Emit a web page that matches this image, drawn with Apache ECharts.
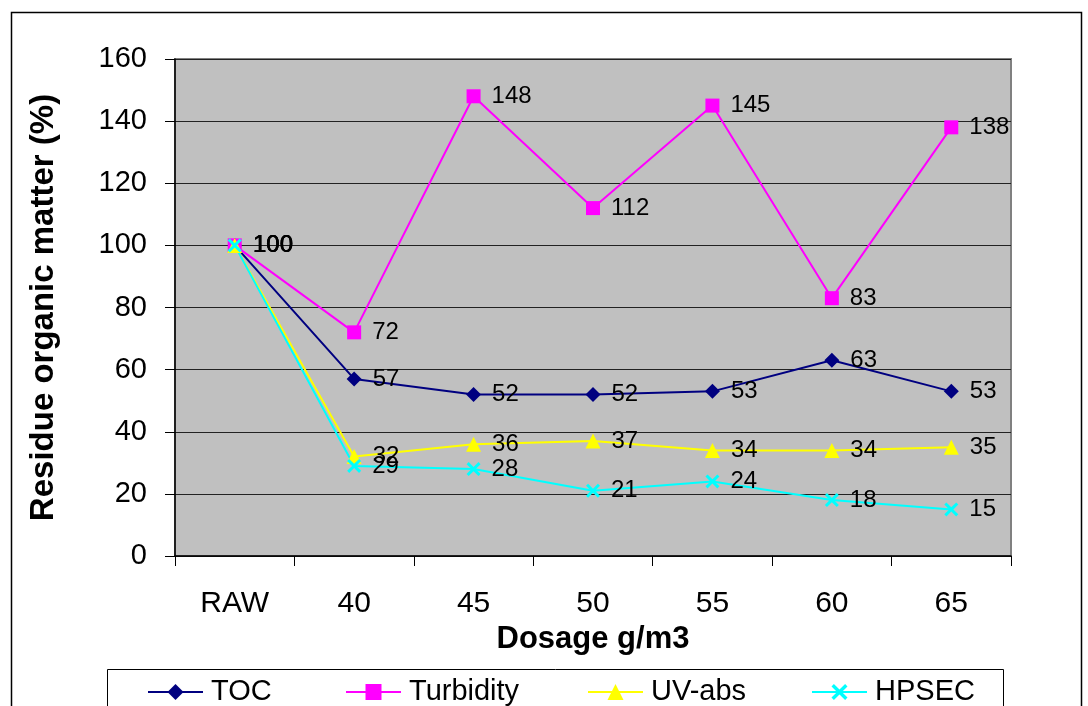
<!DOCTYPE html>
<html>
<head>
<meta charset="utf-8">
<title>Residue organic matter vs dosage</title>
<script src="https://cdn.jsdelivr.net/npm/echarts@6/dist/echarts.min.js"></script>
<style>
  html, body { margin: 0; padding: 0; background: #ffffff; }
  #chart { width: 1088px; height: 706px; }
</style>
</head>
<body>
<div id="chart"></div>
<script>
// Dosage categories (g/m3) and residue values (% of raw water)
const categories = ['RAW', '40', '45', '50', '55', '60', '65'];
const tocValues = [100, 57, 52, 52, 53, 63, 53];
const turbidityValues = [100, 72, 148, 112, 145, 83, 138];
const uvAbsValues = [100, 32, 36, 37, 34, 34, 35];
const hpsecValues = [100, 29, 28, 21, 24, 18, 15];
const seriesNames = ['TOC', 'Turbidity', 'UV-abs', 'HPSEC'];

const FONT = "'Liberation Sans', Arial, sans-serif";
const crossSymbol = 'path://M0,1.5L1.5,0L5,3.5L8.5,0L10,1.5L6.5,5L10,8.5L8.5,10L5,6.5L1.5,10L0,8.5L3.5,5Z';

function makeSeries(name, data, color, symbol, size) {
  return {
    name: name,
    type: 'line',
    data: data,
    symbol: symbol,
    symbolSize: size,
    symbolKeepAspect: true,
    lineStyle: { color: color, width: 2 },
    itemStyle: { color: color },
    emphasis: { disabled: true },
    label: {
      show: true,
      position: 'right',
      distance: 11,
      color: '#000',
      fontSize: 24,
      fontFamily: FONT
    }
  };
}

function legendAt(name, left) {
  return {
    data: [name],
    left: left,
    top: 676,
    padding: 0,
    itemWidth: 55,
    itemHeight: 20,
    selectedMode: false,
    textStyle: { fontSize: 29, fontFamily: FONT, color: '#000', padding: [0, 0, 0, 3], lineHeight: 32 }
  };
}

const chart = echarts.init(document.getElementById('chart'), null, { renderer: 'canvas' });

chart.setOption({
  backgroundColor: '#ffffff',
  animation: false,
  textStyle: { fontFamily: FONT },
  graphic: [
    { type: 'rect', shape: { x: 11.5, y: 12.5, width: 1070, height: 720 },
      style: { fill: 'none', stroke: '#000', lineWidth: 1.5 }, z: -10, silent: true },
    { type: 'rect', shape: { x: 107.5, y: 669.5, width: 896, height: 60 },
      style: { fill: 'none', stroke: '#000', lineWidth: 1 }, z: -10, silent: true }
  ],
  grid: {
    left: 175, top: 59, right: 77, bottom: 150,
    show: true,
    backgroundColor: '#C0C0C0',
    borderColor: '#808080',
    borderWidth: 2
  },
  legend: [
    legendAt('TOC', 147),
    legendAt('Turbidity', 345),
    legendAt('UV-abs', 587),
    legendAt('HPSEC', 811)
  ],
  xAxis: {
    type: 'category',
    data: categories,
    boundaryGap: true,
    name: 'Dosage g/m3',
    nameLocation: 'middle',
    nameGap: 68,
    nameTextStyle: { fontSize: 31, fontWeight: 'bold', color: '#000', fontFamily: FONT },
    axisLine: { show: true, lineStyle: { color: '#000', width: 1.5 } },
    axisTick: { show: true, length: 10, lineStyle: { color: '#000', width: 1 } },
    axisLabel: { fontSize: 30, color: '#000', margin: 33, fontFamily: FONT },
    splitLine: { show: false }
  },
  yAxis: {
    type: 'value',
    min: 0,
    max: 160,
    interval: 20,
    name: 'Residue organic matter (%)',
    nameLocation: 'middle',
    nameGap: 115,
    nameRotate: 90,
    nameTextStyle: { fontSize: 33, fontWeight: 'bold', color: '#000', fontFamily: FONT },
    axisLine: { show: true, lineStyle: { color: '#000', width: 1.5 } },
    axisTick: { show: true, length: 10, lineStyle: { color: '#000', width: 1 } },
    axisLabel: { fontSize: 29, color: '#000', margin: 28, fontFamily: FONT },
    splitLine: { show: true, lineStyle: { color: '#222', width: 1 } }
  },
  series: [
    makeSeries(seriesNames[0], tocValues, '#000080', 'diamond', 15),
    makeSeries(seriesNames[1], turbidityValues, '#FF00FF', 'rect', 14),
    makeSeries(seriesNames[2], uvAbsValues, '#FFFF00', 'triangle', 15),
    makeSeries(seriesNames[3], hpsecValues, '#00FFFF', crossSymbol, 14)
  ]
});
</script>
</body>
</html>
